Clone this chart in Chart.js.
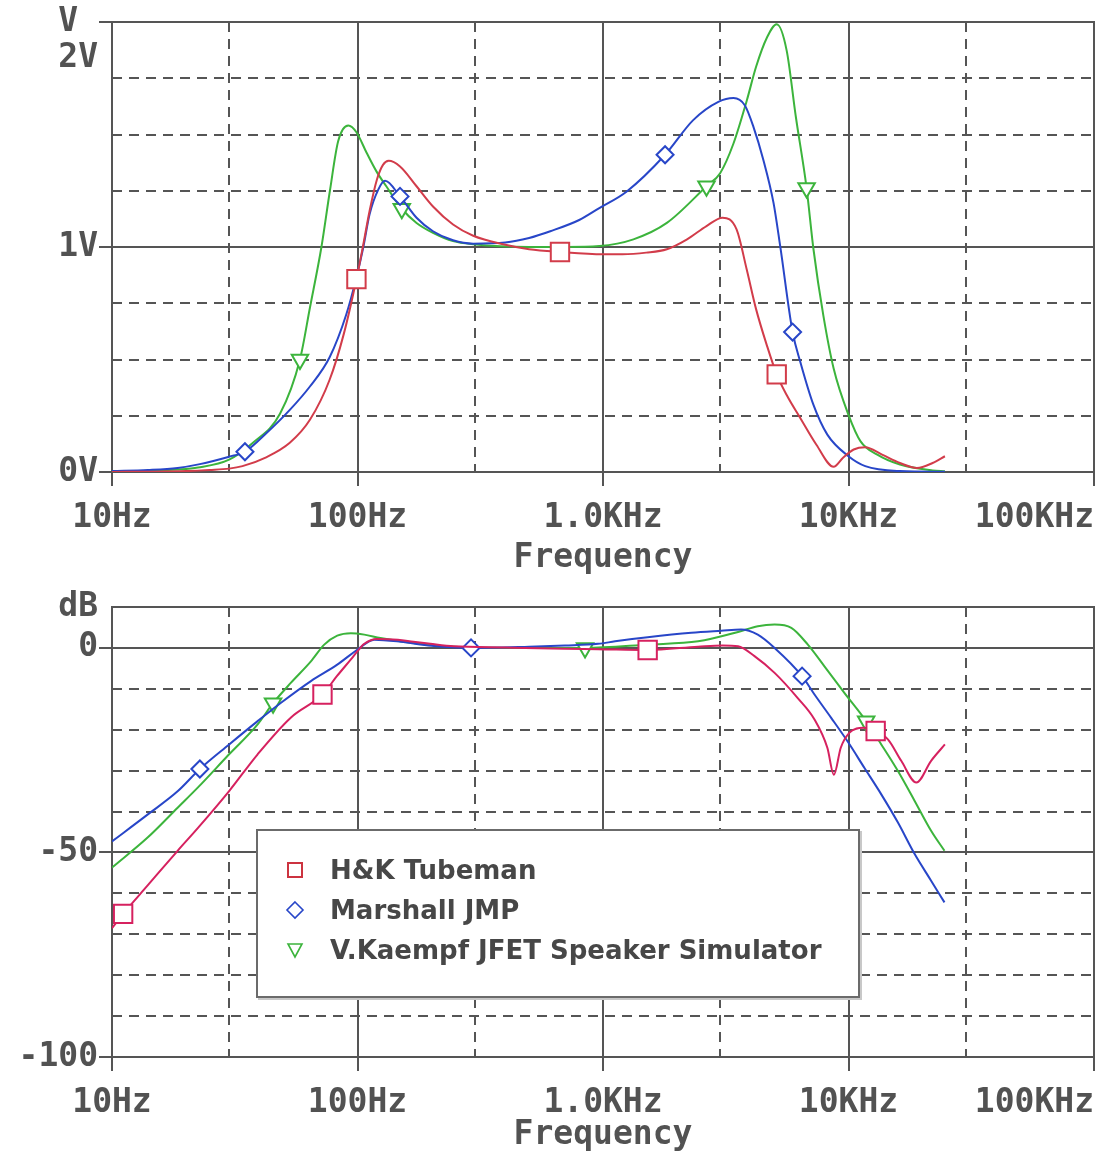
<!DOCTYPE html>
<html>
<head>
<meta charset="utf-8">
<script src="https://cdn.jsdelivr.net/npm/chart.js@4.4.1/dist/chart.umd.min.js"></script>
<style>
html, body { margin: 0; padding: 0; background: #fff; }
#wrap { position: relative; width: 1099px; height: 1155px; overflow: hidden; }
#top { position: absolute; left: 0; top: 0; }
#bottom { position: absolute; left: 0; top: 585px; }
#legend { position: absolute; left: 256px; top: 829px; width: 600px; height: 165px; background: #fff;
  border: 2px solid #6b6b6b; box-shadow: 2px 2px 0 #c8c8c8; font: bold 26px "DejaVu Sans", sans-serif; color: #474747; }
.row { position: absolute; left: 0; height: 40px; line-height: 40px; white-space: nowrap; }
.row svg { position: absolute; left: 27px; top: 10px; }
.row span { position: absolute; left: 72px; }
</style>
</head>
<body>
<div id="wrap">
  <canvas id="top" width="1099" height="585"></canvas>
  <canvas id="bottom" width="1099" height="570"></canvas>
  <div id="legend"></div>
</div>
<script>
// series names
const seriesNames = ['H&K Tubeman', 'Marshall JMP', 'V.Kaempf JFET Speaker Simulator'];

// frequency axis
const freqTicks = [10, 100, 1000, 10000, 100000];
const freqLabels = ['10Hz', '100Hz', '1.0KHz', '10KHz', '100KHz'];
const freqMinor = [30, 300, 3000, 30000];

// upper plot: output voltage
const voltTicks = [0, 1, 1.84, 2];
const voltLabels = ['0V', '1V', '2V', 'V'];
const voltMajor = [0, 1, 2];
const voltMinor = [0.25, 0.5, 0.75, 1.25, 1.5, 1.75];

const freqHkV = [10, 15, 20, 25, 30, 34, 42, 53, 64, 77, 88, 99, 105, 112, 120, 127, 134, 149, 174, 203, 245, 296, 400, 500, 668, 1000, 1200, 1500, 1820, 2200, 2640, 3070, 3500, 3850, 4200, 4650, 5100, 5600, 6360, 7400, 8700, 9500, 10500, 11700, 13700, 16200, 19000, 22000, 24700];
const voltHk = [0.0004, 0.0013, 0.004, 0.009, 0.015, 0.026, 0.063, 0.13, 0.232, 0.41, 0.615, 0.857, 0.997, 1.16, 1.30, 1.365, 1.383, 1.358, 1.27, 1.18, 1.10, 1.05, 1.01, 0.99, 0.978, 0.968, 0.968, 0.975, 0.99, 1.034, 1.093, 1.13, 1.078, 0.90, 0.725, 0.563, 0.434, 0.342, 0.24, 0.121, 0.023, 0.063, 0.10, 0.11, 0.077, 0.04, 0.018, 0.04, 0.07];
const markHkV = [99, 668, 5100];

const freqJmpV = [10, 14, 18.5, 22.8, 30, 34.8, 42.6, 53, 64, 77, 90, 99, 105.5, 112, 121.5, 129.5, 149, 174, 203, 245, 296, 400, 500, 610, 800, 966, 1250, 1790, 2330, 2950, 3400, 3780, 4100, 4500, 4950, 5270, 5920, 6360, 7200, 8200, 10000, 11700, 16200, 24700];
const voltJmp = [0.004, 0.009, 0.018, 0.035, 0.068, 0.09, 0.173, 0.276, 0.38, 0.51, 0.70, 0.865, 0.997, 1.145, 1.255, 1.294, 1.225, 1.13, 1.07, 1.03, 1.015, 1.02, 1.04, 1.07, 1.12, 1.173, 1.247, 1.41, 1.564, 1.645, 1.662, 1.63, 1.534, 1.387, 1.196, 1.004, 0.622, 0.49, 0.298, 0.166, 0.07, 0.026, 0.004, 0.0008];
const markJmpV = [34.8, 149, 1790, 5920];

const freqKaeV = [10, 14, 18.5, 22.4, 30, 37.5, 48.4, 58.3, 64, 71.3, 77.2, 83.4, 91.8, 99, 108.8, 119.6, 131, 151.5, 174, 203, 245, 296, 500, 700, 966, 1330, 1820, 2640, 3000, 3400, 3850, 4200, 4650, 5100, 5600, 6100, 6750, 7200, 7900, 8700, 10000, 11200, 13100, 16200, 22000, 24700];
const voltKae = [0.002, 0.005, 0.011, 0.02, 0.055, 0.13, 0.26, 0.50, 0.73, 1.0, 1.25, 1.47, 1.54, 1.51, 1.42, 1.335, 1.27, 1.17, 1.107, 1.063, 1.026, 1.012, 1.0, 1.0, 1.004, 1.034, 1.107, 1.27, 1.328, 1.46, 1.65, 1.80, 1.93, 1.99, 1.873, 1.58, 1.262, 0.99, 0.695, 0.46, 0.254, 0.136, 0.077, 0.033, 0.007, 0.003];
const markKaeV = [58.3, 151.5, 2640, 6750];

// lower plot: gain in dB
const dbTicks = [-100, -50, 0, 10];
const dbLabels = ['-100', '-50', '0', 'dB'];
const dbMajor = [-100, -50, 0];
const dbMinor = [-90, -80, -70, -60, -40, -30, -20, -10];

const freqHkDb = [10, 11.1, 14, 18.5, 22.4, 30, 39.2, 53.6, 72, 82.7, 94, 100, 106.6, 120, 146, 169, 198, 247, 400, 700, 955, 1520, 2440, 3070, 3550, 4140, 5000, 6200, 7270, 8200, 8720, 9300, 10100, 11500, 12900, 14500, 16400, 18900, 21700, 24700];
const dbHk = [-68.5, -65, -58, -49.6, -44, -35, -26, -17, -11.4, -6.8, -2.8, -0.8, 1.0, 2.2, 2.0, 1.5, 1.0, 0.4, 0.1, -0.2, -0.3, -0.5, 0.3, 0.6, 0.4, -2, -6.1, -12.2, -17.5, -24.4, -31, -24.4, -20.7, -19.5, -20.3, -22.4, -27.6, -32.9, -27.6, -23.6];
const markHkDb = [11.1, 72, 1520, 12900];

const freqJmpDb = [10, 14, 18.55, 22.8, 30, 39.2, 48.8, 64.6, 82.7, 100, 117, 150, 200, 290, 500, 700, 955, 1120, 1520, 2290, 3030, 3650, 4270, 5000, 6470, 7270, 8500, 10000, 11600, 13600, 15900, 18600, 21700, 24600];
const dbJmp = [-47.3, -40.7, -35, -29.6, -23.6, -17.9, -13.4, -8.1, -4.1, -0.4, 2.0, 1.5, 0.5, 0, 0.3, 0.6, 1.0, 1.6, 2.6, 3.7, 4.2, 4.5, 3.25, 0, -6.9, -11.4, -17.1, -23.2, -29.3, -35.8, -42.7, -50.4, -56.9, -62.2];
const markJmpDb = [22.8, 290, 6470];

const freqKaeDb = [10, 14, 18.55, 22.4, 30, 39.2, 45.3, 53.6, 64.6, 73.2, 82.7, 94, 106.6, 124, 169, 272, 500, 845, 1520, 2440, 3550, 4270, 5000, 5850, 6830, 7980, 9620, 11800, 13600, 15900, 18600, 21700, 24600];
const dbKae = [-53.7, -46.3, -39, -34.1, -26, -18.7, -13.5, -8.5, -3.3, 0.8, 3.0, 3.6, 3.25, 2.4, 1.2, 0.16, 0, 0, 0.8, 1.6, 3.9, 5.3, 5.7, 4.9, 0.8, -4.5, -11, -17.9, -23.6, -30.1, -37.4, -44.7, -49.6];
const markKaeDb = [45.3, 845, 11800];

var axisFont = {family: '"DejaVu Sans Mono", monospace', size: 33, weight: 'bold'};
var axisColor = '#525252';
var gridColor = '#555555';

var pspiceGrid = {
    id: 'pspiceGrid',
    beforeDatasetsDraw: function(chart, args, opts){
        var ctx = chart.ctx, a = chart.chartArea, x = chart.scales.x, y = chart.scales.y;
        ctx.save();
        ctx.strokeStyle = gridColor;
        ctx.lineWidth = 2;
        ctx.setLineDash([10, 7]);
        ctx.beginPath();
        freqMinor.forEach(function(f){
            var px = Math.round(x.getPixelForValue(f));
            ctx.moveTo(px, a.top); ctx.lineTo(px, a.bottom);
        });
        opts.minor.forEach(function(v){
            var py = Math.round(y.getPixelForValue(v));
            ctx.moveTo(a.left, py); ctx.lineTo(a.right, py);
        });
        ctx.stroke();
        ctx.setLineDash([]);
        ctx.beginPath();
        freqTicks.forEach(function(f){
            var px = Math.round(x.getPixelForValue(f));
            ctx.moveTo(px, a.top); ctx.lineTo(px, a.bottom + 14);
        });
        opts.major.forEach(function(v){
            var py = Math.round(y.getPixelForValue(v));
            ctx.moveTo(a.left - 13, py); ctx.lineTo(a.right, py);
        });
        ctx.stroke();
        ctx.strokeRect(a.left, a.top, a.right - a.left, a.bottom - a.top);
        ctx.restore();
    }
};

function series(label, freq, vals, marks, color, style, radius, rotation){
    return {
        label: label,
        data: freq.map(function(f, i){ return {x: f, y: vals[i]}; }),
        borderColor: color,
        borderWidth: 2,
        backgroundColor: '#fff',
        fill: false,
        cubicInterpolationMode: 'monotone',
        pointStyle: style,
        pointRotation: rotation || 0,
        pointBackgroundColor: '#fff',
        pointBorderColor: color,
        pointBorderWidth: 2,
        pointRadius: function(c){ return marks.indexOf(freq[c.dataIndex]) >= 0 ? radius : 0; },
        pointHoverRadius: 0
    };
}

function makeChart(id, yMin, yMax, yTicks, yLabels, major, minor, datasets, xHeight, titlePad){
    return new Chart(document.getElementById(id).getContext('2d'), {
        type: 'line',
        data: {datasets: datasets},
        options: {
            responsive: false,
            animation: false,
            events: [],
            layout: {padding: {top: 22, right: 5, left: 0, bottom: 0}},
            plugins: {
                legend: {display: false},
                tooltip: {enabled: false},
                pspiceGrid: {major: major, minor: minor}
            },
            scales: {
                x: {
                    type: 'logarithmic',
                    min: 10,
                    max: 100000,
                    grid: {display: false, drawTicks: false},
                    border: {display: false},
                    afterBuildTicks: function(s){ s.ticks = freqTicks.map(function(v){ return {value: v}; }); },
                    afterFit: function(s){ s.height = xHeight; s.paddingLeft = 0; s.paddingRight = 0; },
                    ticks: {
                        autoSkip: false,
                        maxRotation: 0,
                        padding: 27,
                        color: axisColor,
                        font: axisFont,
                        callback: function(v, i){
                            return i === freqLabels.length - 1 ? freqLabels[i] + '      ' : freqLabels[i];
                        }
                    },
                    title: {display: true, text: 'Frequency', color: axisColor, font: axisFont, padding: {top: 0, bottom: titlePad}}
                },
                y: {
                    min: yMin,
                    max: yMax,
                    grid: {display: false, drawTicks: false},
                    border: {display: false},
                    afterBuildTicks: function(s){ s.ticks = yTicks.map(function(v){ return {value: v}; }); },
                    afterFit: function(s){ s.width = 112; s.paddingTop = 0; s.paddingBottom = 0; },
                    ticks: {
                        autoSkip: false,
                        padding: 14,
                        color: axisColor,
                        font: axisFont,
                        callback: function(v, i){ return yLabels[i] === 'V' ? 'V ' : yLabels[i]; }
                    }
                }
            }
        },
        plugins: [pspiceGrid]
    });
}

var topChart = makeChart('top', 0, 2, voltTicks, voltLabels, voltMajor, voltMinor, [
    series(seriesNames[0], freqHkV, voltHk, markHkV, '#d23c4a', 'rect', 13),
    series(seriesNames[1], freqJmpV, voltJmp, markJmpV, '#2846c8', 'rectRot', 8.5),
    series(seriesNames[2], freqKaeV, voltKae, markKaeV, '#3cb43c', 'triangle', 9.5, 180)
], 113, 7);

var bottomChart = makeChart('bottom', -100, 10, dbTicks, dbLabels, dbMajor, dbMinor, [
    series(seriesNames[0], freqHkDb, dbHk, markHkDb, '#d6215f', 'rect', 13),
    series(seriesNames[1], freqJmpDb, dbJmp, markJmpDb, '#2846c8', 'rectRot', 8.5),
    series(seriesNames[2], freqKaeDb, dbKae, markKaeDb, '#3cb43c', 'triangle', 9.5, 180)
], 98, 0);

// legend box inside the lower plot
var legendMarks = [
    '<rect x="3" y="3" width="14" height="14" fill="none" stroke="#cc3340" stroke-width="2"/>',
    '<polygon points="10,2 18,10 10,18 2,10" fill="none" stroke="#2846c8" stroke-width="1.6"/>',
    '<polygon points="3,4 17,4 10,17" fill="none" stroke="#3cb43c" stroke-width="1.6"/>'
];
var legend = document.getElementById('legend');
bottomChart.data.datasets.forEach(function(ds, i){
    var row = document.createElement('div');
    row.className = 'row';
    row.style.top = (19 + i * 40) + 'px';
    row.innerHTML = '<svg width="20" height="20" viewBox="0 0 20 20">' + legendMarks[i] + '</svg>';
    var span = document.createElement('span');
    span.textContent = ds.label;
    row.appendChild(span);
    legend.appendChild(row);
});
</script>
</body>
</html>
